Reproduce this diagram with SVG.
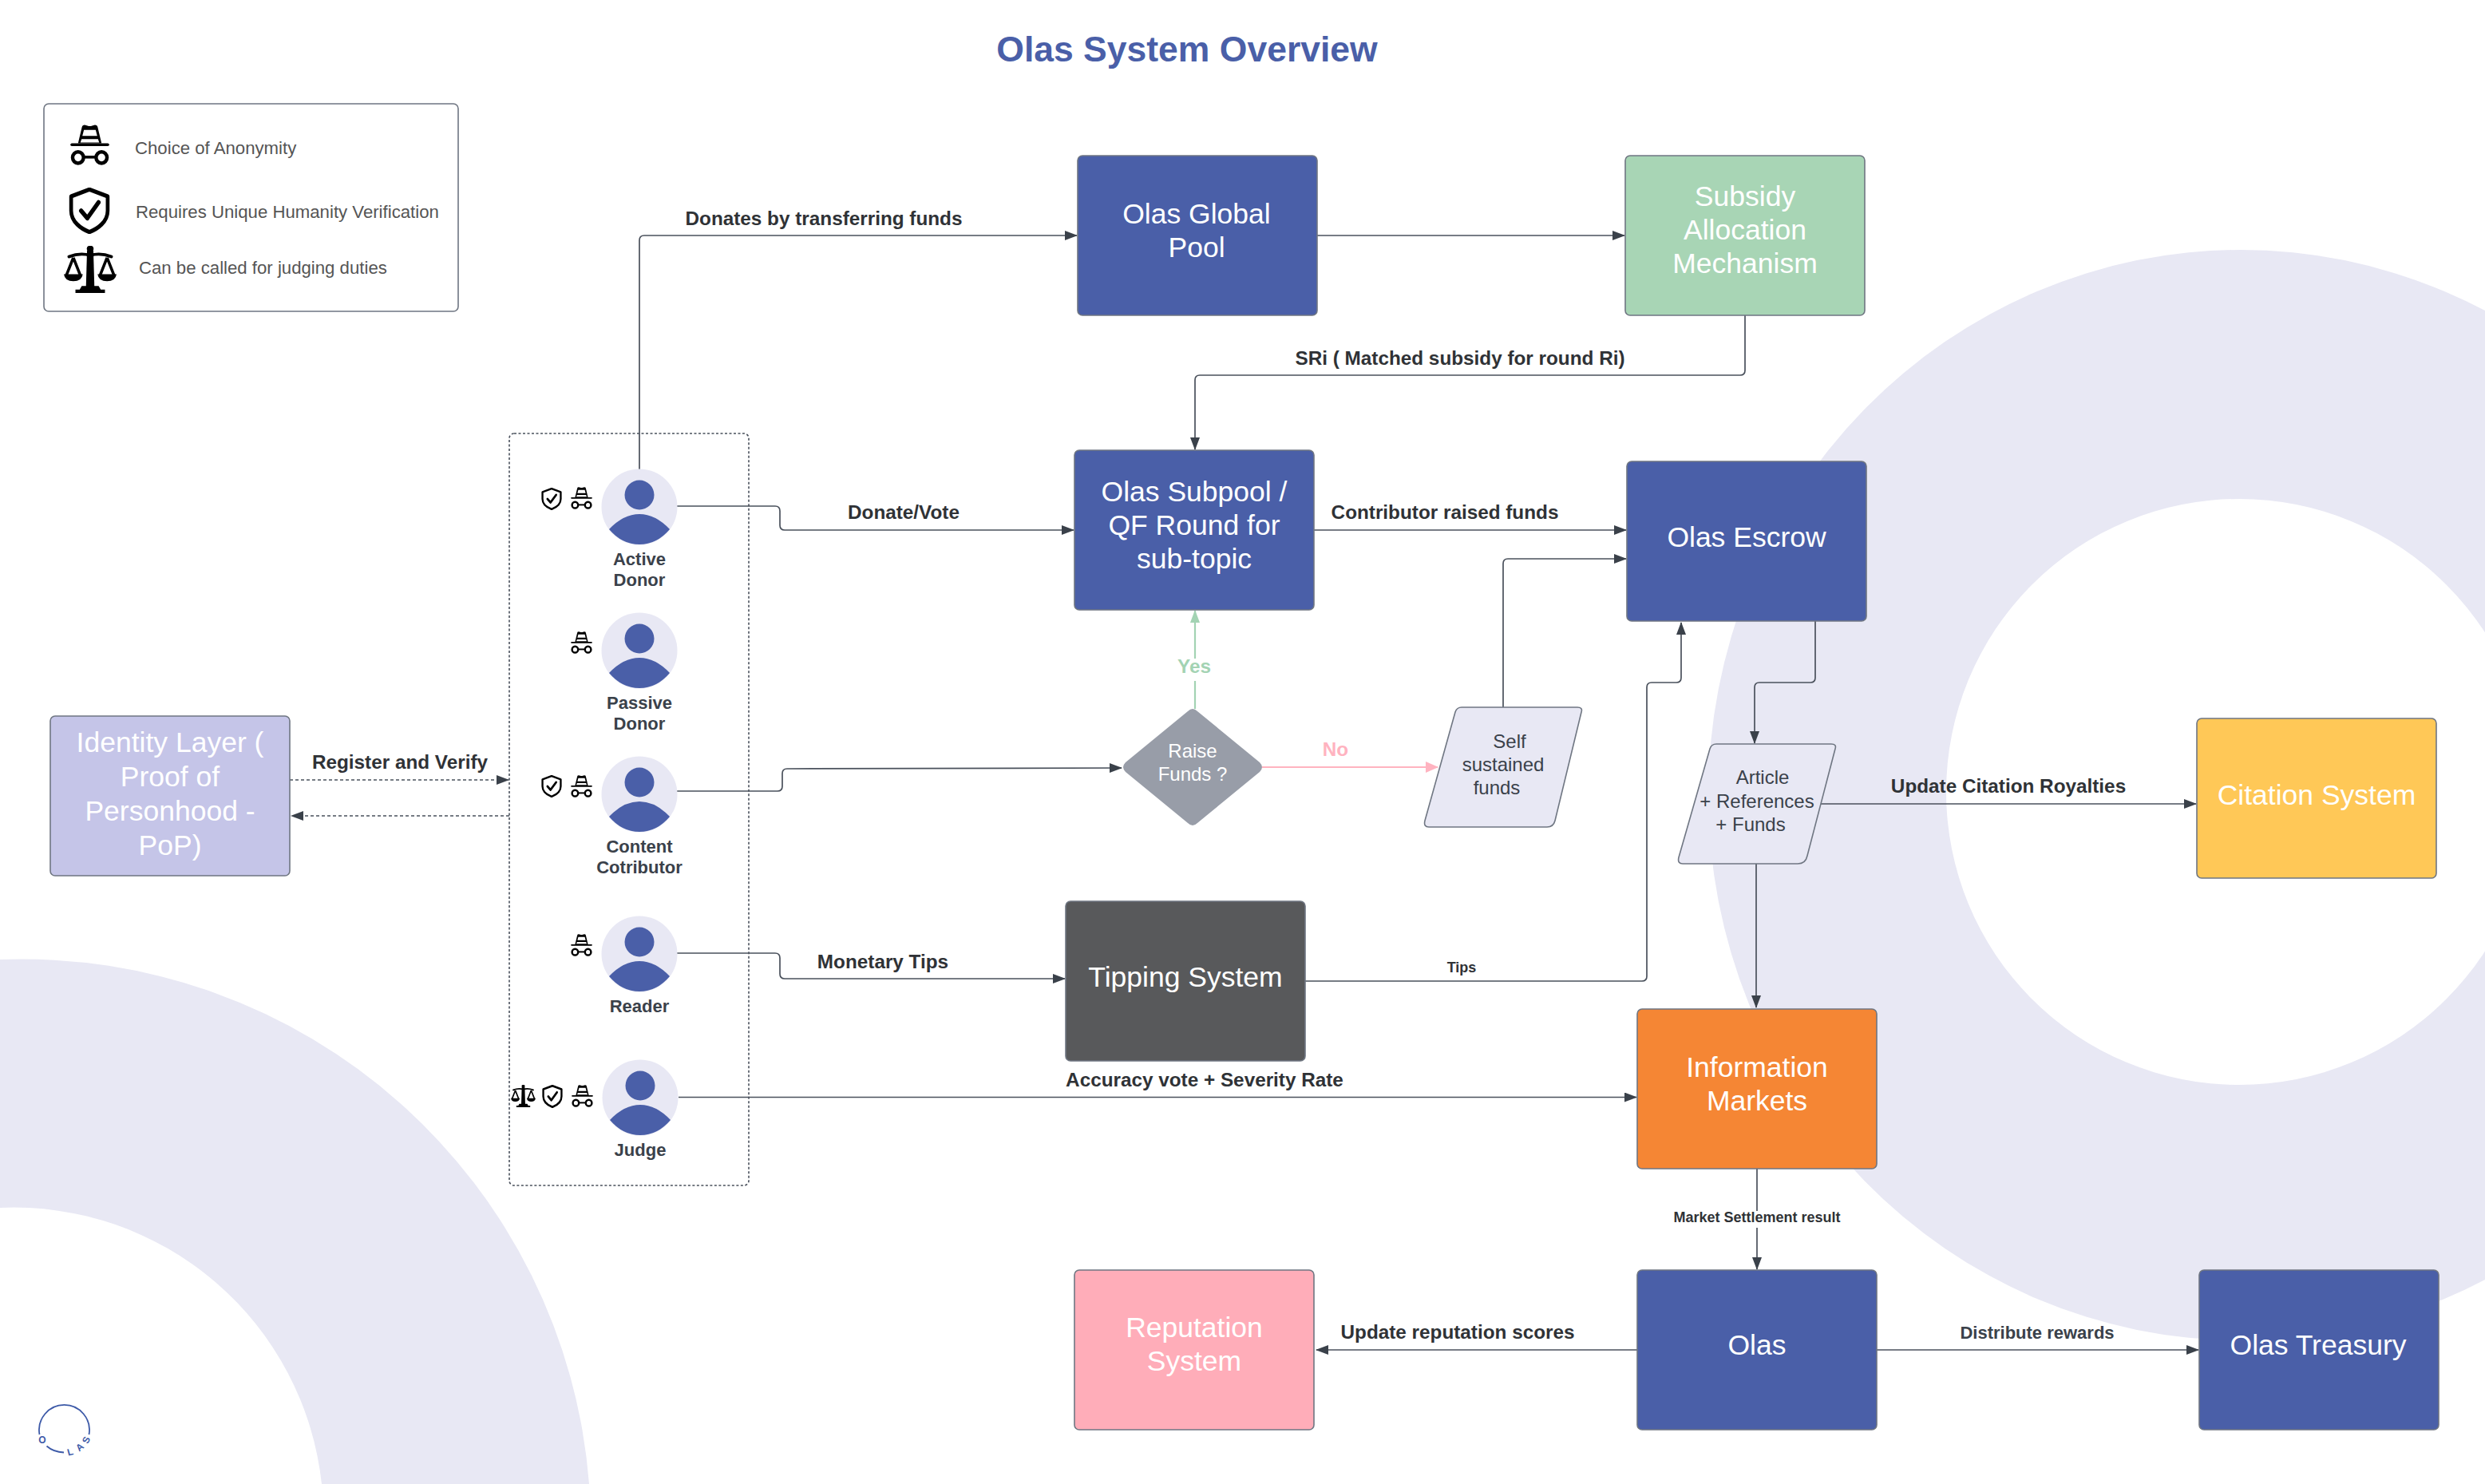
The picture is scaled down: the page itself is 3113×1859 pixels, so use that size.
<svg xmlns="http://www.w3.org/2000/svg" xmlns:xlink="http://www.w3.org/1999/xlink" width="3113" height="1859" viewBox="0 0 3113 1859">
<style>
text{font-family:"Liberation Sans",Arial,sans-serif}
.box{stroke:#6f7682;stroke-width:1.6}
.nl{fill:#fff;font-size:35.500px;text-anchor:middle}
.el{fill:#2f3236;font-size:24.300px;font-weight:700;text-anchor:middle}
.es{fill:#2f3236;font-size:18px;font-weight:700;text-anchor:middle}
.ul{fill:#3a414a;font-size:22px;font-weight:700;text-anchor:middle}
.lg{fill:#555;font-size:22.200px}
.dk{fill:#3a414a;font-size:24px;text-anchor:middle}
.c{fill:none;stroke:#4a515c;stroke-width:1.7}
.bg{fill:#e8e8f4;fill-rule:evenodd}
</style>
<defs>
<marker id="a" markerUnits="userSpaceOnUse" markerWidth="16" markerHeight="12" refX="15" refY="6" orient="auto"><path d="M0 0L16 6L0 12z" fill="#3a414a"/></marker>
<marker id="ag" markerUnits="userSpaceOnUse" markerWidth="16" markerHeight="12" refX="15" refY="6" orient="auto"><path d="M0 0L16 6L0 12z" fill="#a3d3b3"/></marker>
<marker id="ap" markerUnits="userSpaceOnUse" markerWidth="16" markerHeight="14" refX="15" refY="7" orient="auto"><path d="M0 0L16 7L0 14z" fill="#ffb3c0"/></marker>
<symbol id="spy" viewBox="0 0 100 100" preserveAspectRatio="none">
<path d="M20 46L30 6Q31 1 37 1L44 3Q50 5 56 3L63 1Q69 1 70 6L80 46z" fill="#000"/>
<path d="M35 13H65L69 28H31zM29 36H71L74 44H26z" fill="#fff"/>
<path d="M4 49.500H96" stroke="#000" stroke-width="7" stroke-linecap="round"/>
<circle cx="20" cy="81" r="14" fill="none" stroke="#000" stroke-width="9"/>
<circle cx="80" cy="81" r="14" fill="none" stroke="#000" stroke-width="9"/>
<path d="M34 80H66" stroke="#000" stroke-width="7"/>
</symbol>
<symbol id="shield" viewBox="0 0 100 100" preserveAspectRatio="none">
<path d="M50 4L94 19V50C94 74 70 89 50 96C30 89 6 74 6 50V19z" fill="none" stroke="#000" stroke-width="9" stroke-linejoin="round"/>
<path d="M30 50L45 66L72 32" fill="none" stroke="#000" stroke-width="10" stroke-linecap="round" stroke-linejoin="round"/>
</symbol>
<symbol id="scale" viewBox="0 0 100 100" preserveAspectRatio="none">
<circle cx="50" cy="6" r="6.500" fill="#000"/>
<path d="M44 10H56L58 88H42z" fill="#000"/>
<path d="M10 23Q30 14 50 20Q70 14 90 23" fill="none" stroke="#000" stroke-width="6.500" stroke-linecap="round"/>
<path d="M18 25L5 62M18 25L31 62M82 25L69 62M82 25L95 62" fill="none" stroke="#000" stroke-width="5.500"/>
<path d="M0 60H36Q34 75 18 75Q2 75 0 60z M64 60H100Q98 75 82 75Q66 75 64 60z" fill="#000"/>
<path d="M34 85H66L70 93H78V100H22V93H30z" fill="#000"/>
</symbol>
<symbol id="person" viewBox="0 0 96 96">
<circle cx="48" cy="48" r="47.500" fill="#e8e8f4"/>
<circle cx="48" cy="33" r="18.500" fill="#4a5fa8"/>
<path d="M10 76Q28 57 48 57Q68 57 86 76Q70 95 48 95Q26 95 10 76z" fill="#4a5fa8"/>
</symbol>
</defs>

<g id="background">
<path class="bg" d="M2140 996A667 683 0 1 1 3474 996A667 683 0 1 1 2140 996zM2438 992A367 367 0 1 0 3172 992A367 367 0 1 0 2438 992z"/>
<path class="bg" d="M0 1202A713 713 0 0 1 738 1859L403 1859A388 388 0 0 0 0 1513z"/>
</g>

<text x="1487" y="77" fill="#4a5fa8" font-size="44.500" font-weight="700" text-anchor="middle">Olas System Overview</text>

<g id="legend">
<rect x="55" y="130" width="519" height="260" rx="6" fill="#fff" class="box"/>
<use xlink:href="#spy" href="#spy" x="88" y="156" width="49" height="51"/>
<use xlink:href="#shield" href="#shield" x="86" y="235" width="52" height="58"/>
<use xlink:href="#scale" href="#scale" x="80" y="308" width="66" height="59"/>
<text class="lg" x="169" y="193">Choice of Anonymity</text>
<text class="lg" x="170" y="273">Requires Unique Humanity Verification</text>
<text class="lg" x="174" y="343">Can be called for judging duties</text>
</g>

<g id="logo">
<path d="M49.500 1797A31.500 31.500 0 1 1 111.500 1797M58.500 1811.500Q67 1819 80 1819.500" fill="none" stroke="#3d5aa8" stroke-width="1.800"/>
<text x="53" y="1808" fill="#3d5aa8" font-size="12" font-weight="700" text-anchor="middle">O</text>
<text x="88" y="1823" fill="#3d5aa8" font-size="12" font-weight="700" text-anchor="middle" transform="rotate(-15 88 1819)">L</text>
<text x="100" y="1817" fill="#3d5aa8" font-size="12" font-weight="700" text-anchor="middle" transform="rotate(-40 100 1813)">A</text>
<text x="108" y="1808" fill="#3d5aa8" font-size="12" font-weight="700" text-anchor="middle" transform="rotate(-65 108 1804)">S</text>
</g>

<g id="connectors">
<path class="c" marker-end="url(#a)" d="M801 589V301Q801 295 807 295H1349"/>
<path class="c" marker-end="url(#a)" d="M1650 295H2035"/>
<path class="c" marker-end="url(#a)" d="M2186 395V464Q2186 470 2180 470H1503Q1497 470 1497 476V563"/>
<path class="c" marker-end="url(#a)" d="M848 634H971Q977 634 977 640V658Q977 664 983 664H1345"/>
<path class="c" marker-end="url(#a)" d="M1646 664H2037"/>
<path class="c" marker-end="url(#a)" d="M1883 886V706Q1883 700 1889 700H2037"/>
<path class="c" marker-end="url(#a)" d="M848 991H974Q980 991 980 985V969Q980 963 986 963L1405 962"/>
<path class="c" marker-end="url(#a)" d="M846 1194H971Q977 1194 977 1200V1220Q977 1226 983 1226H1334"/>
<path class="c" marker-end="url(#a)" d="M1635 1229H2057Q2063 1229 2063 1223V861Q2063 855 2069 855H2100Q2106 855 2106 849V780"/>
<path class="c" marker-end="url(#a)" d="M850 1374.500H2050"/>
<path class="c" marker-end="url(#a)" d="M2274 778V849Q2274 855 2268 855H2204Q2198 855 2198 861V931"/>
<path class="c" marker-end="url(#a)" d="M2281 1007H2751"/>
<path class="c" marker-end="url(#a)" d="M2200 1082V1262"/>
<path class="c" d="M2201 1463V1517"/>
<path class="c" marker-end="url(#a)" d="M2201 1538V1590"/>
<path class="c" marker-end="url(#a)" d="M2051 1691H1649"/>
<path class="c" marker-end="url(#a)" d="M2351 1691H2754"/>
<path class="c" stroke-dasharray="4 3" marker-end="url(#a)" d="M363 977H637"/>
<path class="c" stroke-dasharray="4 3" marker-end="url(#a)" d="M638 1022H365"/>
<path fill="none" stroke="#a3d3b3" stroke-width="2.200" d="M1497 888V853"/>
<path fill="none" stroke="#a3d3b3" stroke-width="2.200" marker-end="url(#ag)" d="M1497 825V765"/>
<path fill="none" stroke="#ffb3c0" stroke-width="2.200" marker-end="url(#ap)" d="M1581 961H1801"/>
<text class="el" x="1032" y="282">Donates by transferring funds</text>
<text class="el" x="1829" y="457">SRi ( Matched subsidy for round Ri)</text>
<text class="el" x="1132" y="650">Donate/Vote</text>
<text class="el" x="1810" y="650">Contributor raised funds</text>
<text class="el" x="1106" y="1213">Monetary Tips</text>
<text class="es" x="1831" y="1218">Tips</text>
<text class="el" x="1509" y="1361">Accuracy vote + Severity Rate</text>
<text class="el" x="2516" y="993">Update Citation Royalties</text>
<text class="es" x="2201" y="1531">Market Settlement result</text>
<text class="el" x="1826" y="1677">Update reputation scores</text>
<text class="ul" x="2552" y="1677">Distribute rewards</text>
<text class="el" x="501" y="963">Register and Verify</text>
<text class="el" x="1496" y="843" style="fill:#a3d3b3">Yes</text>
<text class="el" x="1673" y="947" style="fill:#ffb3c0">No</text>
</g>

<g id="group-box"><rect x="638" y="543" width="300" height="942" rx="6" fill="none" stroke="#4a515c" stroke-width="1.600" stroke-dasharray="3 2.500"/></g>

<g id="active-donor">
<use xlink:href="#person" href="#person" x="753" y="587" width="96" height="96"/>
<use xlink:href="#shield" href="#shield" x="678" y="611" width="26" height="28"/>
<use xlink:href="#spy" href="#spy" x="715" y="610" width="27" height="28"/>
<text class="ul" x="801" y="708">Active</text><text class="ul" x="801" y="734">Donor</text>
</g>
<g id="passive-donor">
<use xlink:href="#person" href="#person" x="753" y="767" width="96" height="96"/>
<use xlink:href="#spy" href="#spy" x="715" y="791" width="27" height="28"/>
<text class="ul" x="801" y="888">Passive</text><text class="ul" x="801" y="914">Donor</text>
</g>
<g id="content-contributor">
<use xlink:href="#person" href="#person" x="753" y="947" width="96" height="96"/>
<use xlink:href="#shield" href="#shield" x="678" y="971" width="26" height="28"/>
<use xlink:href="#spy" href="#spy" x="715" y="971" width="27" height="28"/>
<text class="ul" x="801" y="1068">Content</text><text class="ul" x="801" y="1094">Cotributor</text>
</g>
<g id="reader">
<use xlink:href="#person" href="#person" x="753" y="1147" width="96" height="96"/>
<use xlink:href="#spy" href="#spy" x="715" y="1170" width="27" height="28"/>
<text class="ul" x="801" y="1268">Reader</text>
</g>
<g id="judge">
<use xlink:href="#person" href="#person" x="754" y="1327" width="96" height="96"/>
<use xlink:href="#scale" href="#scale" x="640" y="1359" width="31" height="28"/>
<use xlink:href="#shield" href="#shield" x="679" y="1359" width="26" height="29"/>
<use xlink:href="#spy" href="#spy" x="716" y="1359" width="27" height="28"/>
<text class="ul" x="802" y="1448">Judge</text>
</g>

<g id="global-pool"><rect class="box" x="1350" y="195" width="300" height="200" rx="6" fill="#4a5fa8"/>
<text class="nl" x="1499" y="280">Olas Global</text><text class="nl" x="1499" y="322">Pool</text></g>
<g id="subsidy"><rect class="box" x="2036" y="195" width="300" height="200" rx="6" fill="#a8d5b5"/>
<text class="nl" x="2186" y="258">Subsidy</text><text class="nl" x="2186" y="300">Allocation</text><text class="nl" x="2186" y="342">Mechanism</text></g>
<g id="subpool"><rect class="box" x="1346" y="564" width="300" height="200" rx="6" fill="#4a5fa8"/>
<text class="nl" x="1496" y="628">Olas Subpool /</text><text class="nl" x="1496" y="670">QF Round for</text><text class="nl" x="1496" y="712">sub-topic</text></g>
<g id="escrow"><rect class="box" x="2038" y="578" width="300" height="200" rx="6" fill="#4a5fa8"/>
<text class="nl" x="2188" y="685">Olas Escrow</text></g>
<g id="raise-funds"><path d="M1488 891Q1494 885 1500 891L1578 955Q1584 961 1578 967L1500 1031Q1494 1037 1488 1031L1410 967Q1404 961 1410 955z" fill="#989da8"/>
<text class="nl" style="font-size:24px" x="1494" y="949">Raise</text><text class="nl" style="font-size:24px" x="1494" y="978">Funds ?</text></g>
<g id="self-funds"><path class="box" d="M1823 892Q1825 886 1831 886H1976Q1983 886 1981 892L1948 1028Q1946 1036 1938 1036H1790Q1783 1036 1785 1028z" fill="#e8e8f4"/>
<text class="dk" x="1891" y="937">Self</text><text class="dk" x="1883" y="966">sustained</text><text class="dk" x="1875" y="995">funds</text></g>
<g id="article"><path class="box" d="M2142 938Q2144 932 2150 932H2294Q2301 932 2299 938L2264 1072Q2262 1082 2252 1082H2108Q2101 1082 2103 1074z" fill="#e8e8f4"/>
<text class="dk" x="2208" y="982">Article</text><text class="dk" x="2201" y="1012">+ References</text><text class="dk" x="2193" y="1041">+ Funds</text></g>
<g id="citation"><rect class="box" x="2752" y="900" width="300" height="200" rx="6" fill="#ffc857"/>
<text class="nl" x="2902" y="1008">Citation System</text></g>
<g id="identity"><rect class="box" x="63" y="897" width="300" height="200" rx="6" fill="#c5c5e8"/>
<text class="nl" x="213" y="942">Identity Layer (</text><text class="nl" x="213" y="985">Proof of</text><text class="nl" x="213" y="1028">Personhood -</text><text class="nl" x="213" y="1071">PoP)</text></g>
<g id="tipping"><rect class="box" x="1335" y="1129" width="300" height="200" rx="6" fill="#58595b"/>
<text class="nl" x="1485" y="1236">Tipping System</text></g>
<g id="information-markets"><rect class="box" x="2051" y="1264" width="300" height="200" rx="6" fill="#f58634"/>
<text class="nl" x="2201" y="1349">Information</text><text class="nl" x="2201" y="1391">Markets</text></g>
<g id="olas"><rect class="box" x="2051" y="1591" width="300" height="200" rx="6" fill="#4a5fa8"/>
<text class="nl" x="2201" y="1697">Olas</text></g>
<g id="reputation"><rect class="box" x="1346" y="1591" width="300" height="200" rx="6" fill="#ffadb9"/>
<text class="nl" x="1496" y="1675">Reputation</text><text class="nl" x="1496" y="1717">System</text></g>
<g id="treasury"><rect class="box" x="2755" y="1591" width="300" height="200" rx="6" fill="#4a5fa8"/>
<text class="nl" x="2904" y="1697">Olas Treasury</text></g>
</svg>
